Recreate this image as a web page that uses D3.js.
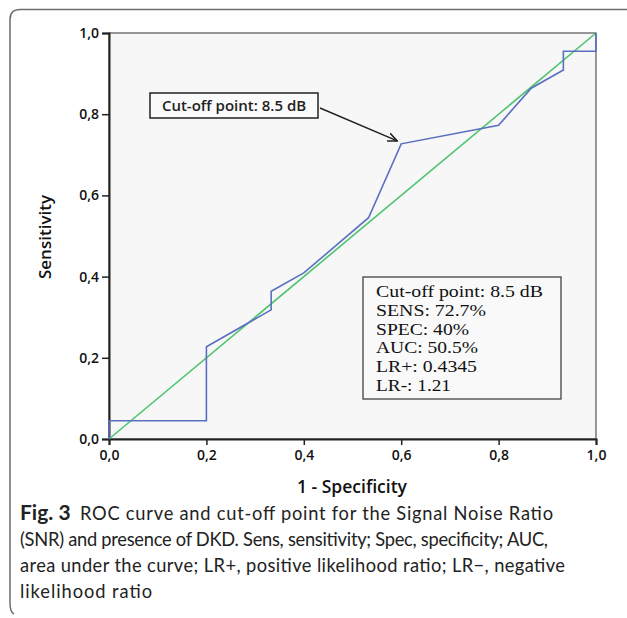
<!DOCTYPE html>
<html>
<head>
<meta charset="utf-8">
<script src="https://cdn.jsdelivr.net/npm/d3@7"></script>
<style>
  body { margin: 0; background: #fff; }
  svg { display: block; }
</style>
</head>
<body>
<svg id="chart" width="627" height="618"></svg>
<script>
// ROC curve (1 - specificity, sensitivity)
var fpr = [0, 0, 0.2, 0.2, 0.333, 0.333, 0.4, 0.533, 0.6, 0.8, 0.867, 0.933, 0.933, 1, 1];
var tpr = [0, 0.045, 0.045, 0.227, 0.318, 0.364, 0.409, 0.545, 0.727, 0.773, 0.864, 0.909, 0.955, 0.955, 1];
var refLine = [0, 1];
var ticks = [0, 0.2, 0.4, 0.6, 0.8, 1.0];
var cutoff = {x: 0.6, y: 0.727, label: 'Cut-off point: 8.5 dB'};
var stats = ['Cut-off point: 8.5 dB', 'SENS: 72.7%', 'SPEC: 40%', 'AUC: 50.5%', 'LR+: 0.4345', 'LR-: 1.21'];
// printed widths of the stats lines
var statWidths = [167, 110, 93, 102, 101, 75];
var captionLabel = 'Fig. 3';
var caption = [
    'ROC curve and cut-off point for the Signal Noise Ratio',
    '(SNR) and presence of DKD. Sens, sensitivity; Spec, specificity; AUC,',
    'area under the curve; LR+, positive likelihood ratio; LR\u2212, negative',
    'likelihood ratio'
];
// where each caption line ends in the picture
var captionEnds = [553, 548, 565, 152];

var svg = d3.select('#chart');
var margin = {top: 33, left: 109};
var width = 487;
var height = 406;

// frame around figure + caption (only top/left visible)
svg.append('path')
    .attr('d', 'M627,9.5 L20,9.5 Q10,9.5 10,19.5 L10,603 Q10,612 14,614')
    .attr('fill', 'none')
    .attr('stroke', '#6e6e6e')
    .attr('stroke-width', 1.5);

var g = svg.append('g').attr('transform', 'translate(' + margin.left + ',' + margin.top + ')');

var x = d3.scaleLinear().domain([0, 1]).range([0, width]);
var y = d3.scaleLinear().domain([0, 1]).range([height, 0]);
var fmt = function(d) { return d3.format('.1f')(d).replace('.', ','); };

g.append('rect')
    .attr('width', width)
    .attr('height', height)
    .attr('fill', '#f7f7f7')
    .attr('stroke', '#555')
    .attr('stroke-width', 1.2);

var xAxis = g.append('g')
    .attr('transform', 'translate(0,' + height + ')')
    .call(d3.axisBottom(x).tickValues(ticks).tickFormat(fmt).tickSize(6).tickPadding(5));
var yAxis = g.append('g')
    .call(d3.axisLeft(y).tickValues(ticks).tickFormat(fmt).tickSize(7).tickPadding(3));

[xAxis, yAxis].forEach(function(a) {
    a.select('.domain').attr('stroke', '#222').attr('stroke-width', 2);
    a.selectAll('.tick line').attr('stroke', '#222').attr('stroke-width', 1.5);
    a.selectAll('.tick text')
        .attr('fill', '#111')
        .style('font-family', 'Open Sans, sans-serif')
        .style('font-size', '14px')
        .style('font-weight', '600');
});
yAxis.selectAll('.tick text').attr('dy', '0.32em');

// diagonal reference
var line = d3.line()
    .x(function(d) { return x(d[0]); })
    .y(function(d) { return y(d[1]); });

g.append('path')
    .datum(refLine.map(function(v) { return [v, v]; }))
    .attr('d', line)
    .attr('fill', 'none')
    .attr('stroke', '#4cc46c')
    .attr('stroke-width', 1.6);

g.append('path')
    .datum(fpr.map(function(v, i) { return [v, tpr[i]]; }))
    .attr('d', line)
    .attr('fill', 'none')
    .attr('stroke', '#5a6fc0')
    .attr('stroke-width', 1.6);

// cut-off annotation
var boxX = 150 - margin.left, boxY = 93 - margin.top;
g.append('rect')
    .attr('x', boxX).attr('y', boxY)
    .attr('width', 168).attr('height', 25)
    .attr('fill', '#fafafa')
    .attr('stroke', '#222')
    .attr('stroke-width', 1.5);
g.append('text')
    .attr('x', boxX + 84).attr('y', boxY + 17.5)
    .attr('text-anchor', 'middle')
    .style('font-family', 'Open Sans, sans-serif')
    .style('font-size', '15px')
    .style('font-weight', '600')
    .attr('fill', '#222')
    .text(cutoff.label);

svg.append('defs').append('marker')
    .attr('id', 'arrow')
    .attr('viewBox', '0 0 10 10')
    .attr('refX', 9).attr('refY', 5)
    .attr('markerWidth', 7).attr('markerHeight', 7)
    .attr('orient', 'auto')
    .append('path')
    .attr('d', 'M0,1 L9,5 L0,9')
    .attr('fill', 'none')
    .attr('stroke', '#222')
    .attr('stroke-width', 1.6);

g.append('line')
    .attr('x1', boxX + 170).attr('y1', boxY + 15)
    .attr('x2', x(cutoff.x) - 4).attr('y2', y(cutoff.y) - 3)
    .attr('stroke', '#222')
    .attr('stroke-width', 1.5)
    .attr('marker-end', 'url(#arrow)');

// statistics box
var sx = 363 - margin.left, sy = 277 - margin.top;
g.append('rect')
    .attr('x', sx).attr('y', sy)
    .attr('width', 198).attr('height', 122)
    .attr('fill', '#f9f9f9')
    .attr('stroke', '#333')
    .attr('stroke-width', 1.2);
g.selectAll('.stat')
    .data(stats)
    .enter().append('text')
    .attr('class', 'stat')
    .attr('x', sx + 13)
    .attr('y', function(d, i) { return sy + 20 + i * 18.8; })
    .attr('textLength', function(d, i) { return statWidths[i]; })
    .attr('lengthAdjust', 'spacingAndGlyphs')
    .style('font-family', 'Liberation Serif, serif')
    .style('font-size', '16.5px')
    .attr('fill', '#111')
    .text(function(d) { return d; });

// axis titles
svg.append('text')
    .attr('x', 352).attr('y', 493)
    .attr('text-anchor', 'middle')
    .style('font-family', 'Open Sans, sans-serif')
    .style('font-size', '17.5px')
    .style('font-weight', '600')
    .attr('fill', '#111')
    .text('1 - Specificity');
svg.append('text')
    .attr('transform', 'translate(51,237) rotate(-90)')
    .attr('text-anchor', 'middle')
    .style('font-family', 'Open Sans, sans-serif')
    .style('font-size', '17px')
    .style('font-weight', '600')
    .attr('fill', '#111')
    .text('Sensitivity');

// caption
var cap = svg.append('g')
    .style('font-family', 'Lato, sans-serif')
    .style('font-size', '18.3px')
    .attr('fill', '#222');
cap.append('text')
    .attr('x', 20).attr('y', 520)
    .style('font-size', '21px')
    .style('font-weight', '700')
    .text(captionLabel);
var capStart = [80, 20, 20, 20];
cap.selectAll('.capline')
    .data(caption)
    .enter().append('text')
    .attr('class', 'capline')
    .attr('x', function(d, i) { return capStart[i]; })
    .attr('y', function(d, i) { return 520 + i * 26; })
    .attr('textLength', function(d, i) { return captionEnds[i] - capStart[i]; })
    .attr('lengthAdjust', 'spacing')
    .text(function(d) { return d; });
</script>
</body>
</html>
